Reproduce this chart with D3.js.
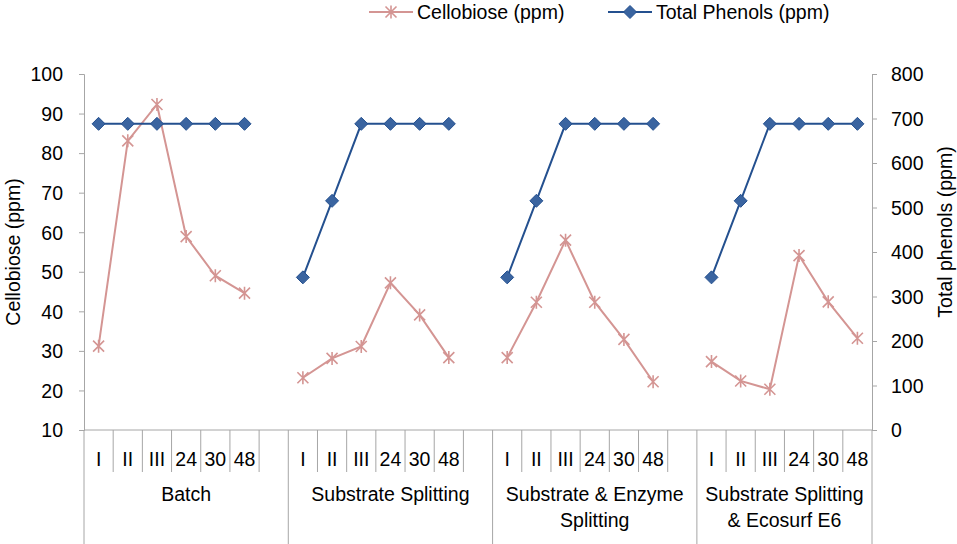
<!DOCTYPE html>
<html>
<head>
<meta charset="utf-8">
<script src="https://cdn.jsdelivr.net/npm/d3@7"></script>
<style>
  body { margin: 0; background: #fff; }
  svg { display: block; font-family: "Liberation Sans", Arial, sans-serif; }
  .axis path, .axis line { stroke: #a6a6a6; }
  .axis text { fill: #000; font-size: 19.5px; }
</style>
</head>
<body>
<svg width="957" height="544"></svg>
<script>
document.addEventListener('DOMContentLoaded', function() {

// groups of the outer category level (lines split on "|")
const groups = ["Batch", "Substrate Splitting", "Substrate & Enzyme|Splitting", "Substrate Splitting|& Ecosurf E6"];
const times = ["I", "II", "III", "24", "30", "48"];

// Cellobiose (ppm), left axis, one row per group
const cellobiose = [
    [31.2, 83.1, 92.3, 58.9, 49.0, 44.6],
    [23.2, 28.1, 31.1, 47.2, 39.1, 28.3],
    [28.3, 42.3, 58.0, 42.3, 32.9, 22.2],
    [27.3, 22.4, 20.3, 54.1, 42.4, 33.2]
];

// Total phenols (ppm), right axis
const phenols = [
    [688, 688, 688, 688, 688, 688],
    [343, 515, 688, 688, 688, 688],
    [343, 515, 688, 688, 688, 688],
    [343, 515, 688, 688, 688, 688]
];

const leftTicks = [10, 20, 30, 40, 50, 60, 70, 80, 90, 100];
const rightTicks = [0, 100, 200, 300, 400, 500, 600, 700, 800];

const cellColor = "#d49593";
const phenColor = "#24508f";
const diamondFill = "#3a64a0";

// build slots: 6 times per group + one blank slot between groups
const slots = [];
groups.forEach((g, gi) => {
    times.forEach((t, ti) => {
        slots.push({ id: `${gi}-${t}`, group: gi, label: t,
                     cell: cellobiose[gi][ti], phen: phenols[gi][ti] });
    });
    if (gi < groups.length - 1) {
        slots.push({ id: `${gi}-blank`, group: gi, label: "", cell: null, phen: null });
    }
});

const svg = d3.select("svg");
const left = 84, right = 872, top = 74, bottom = 430;

const x = d3.scaleBand()
    .domain(slots.map(d => d.id))
    .range([left, right])
    .padding(0);
const yL = d3.scaleLinear().domain([10, 100]).range([bottom, top]);
const yR = d3.scaleLinear().domain([0, 800]).range([bottom, top]);
const cx = d => x(d.id) + x.bandwidth() / 2;

// left axis
svg.append("g")
    .attr("class", "axis")
    .attr("transform", `translate(${left},0)`)
    .call(d3.axisLeft(yL).tickValues(leftTicks).tickSize(5).tickSizeOuter(5).tickPadding(16))
    .call(g => g.selectAll("text").attr("dy", "0.35em"));

// right axis
svg.append("g")
    .attr("class", "axis")
    .attr("transform", `translate(${right},0)`)
    .call(d3.axisRight(yR).tickValues(rightTicks).tickSize(5).tickSizeOuter(5).tickPadding(14))
    .call(g => g.selectAll("text").attr("dy", "0.35em"));

// category axis
const catG = svg.append("g").attr("class", "axis");
catG.append("line")
    .attr("x1", left).attr("x2", right)
    .attr("y1", bottom).attr("y2", bottom);

// slot boundaries: long at group edges, short inside groups
const bounds = [];
slots.forEach((d, i) => {
    const nxt = slots[i + 1];
    const long = !nxt || nxt.group !== d.group;
    bounds.push({ x: x(d.id) + x.bandwidth(), long: long });
});
bounds.unshift({ x: left, long: true });

catG.selectAll("line.sep")
    .data(bounds)
    .enter()
    .append("line")
    .attr("class", "sep")
    .attr("x1", d => d.x).attr("x2", d => d.x)
    .attr("y1", bottom)
    .attr("y2", d => d.long ? 544 : 472);

catG.selectAll("text.time")
    .data(slots.filter(d => d.label))
    .enter()
    .append("text")
    .attr("class", "time")
    .attr("x", cx)
    .attr("y", 459)
    .attr("dy", "0.35em")
    .attr("text-anchor", "middle")
    .text(d => d.label);

const groupSpan = groups.map((g, gi) => {
    const s = slots.filter(d => d.group === gi);
    return { name: g, x0: x(s[0].id), x1: x(s[s.length - 1].id) + x.bandwidth() };
});

const gl = catG.selectAll("text.group")
    .data(groupSpan)
    .enter()
    .append("text")
    .attr("class", "group")
    .attr("text-anchor", "middle")
    .attr("x", d => (d.x0 + d.x1) / 2)
    .attr("y", 501)
    .attr("dy", "0.35em");
gl.selectAll("tspan")
    .data(d => d.name.split("|").map(t => ({ t: t, x: (d.x0 + d.x1) / 2 })))
    .enter()
    .append("tspan")
    .attr("x", d => d.x)
    .attr("dy", (d, i) => i === 0 ? 0 : 25.5)
    .text(d => d.t);

// axis titles
svg.append("text")
    .attr("transform", `translate(13,${(top + bottom) / 2}) rotate(-90)`)
    .attr("text-anchor", "middle")
    .attr("dy", "0.35em")
    .attr("font-size", "19.5px")
    .text("Cellobiose (ppm)");

svg.append("text")
    .attr("transform", `translate(945,232) rotate(-90)`)
    .attr("text-anchor", "middle")
    .attr("dy", "0.35em")
    .attr("font-size", "19.5px")
    .text("Total phenols (ppm)");

// lines
const cellLine = d3.line().defined(d => d.cell != null).x(cx).y(d => yL(d.cell));
const phenLine = d3.line().defined(d => d.phen != null).x(cx).y(d => yR(d.phen));

svg.append("path")
    .datum(slots)
    .attr("fill", "none")
    .attr("stroke", cellColor)
    .attr("stroke-width", 2)
    .attr("d", cellLine);

svg.append("path")
    .datum(slots)
    .attr("fill", "none")
    .attr("stroke", phenColor)
    .attr("stroke-width", 2)
    .attr("d", phenLine);

// markers
const star = "M-5.5,-5.5L5.5,5.5M-5.5,5.5L5.5,-5.5M0,-6.5L0,6.5";
const diamond = "M0,-6.5L6.5,0L0,6.5L-6.5,0Z";

svg.append("g").selectAll("path")
    .data(slots.filter(d => d.cell != null))
    .enter()
    .append("path")
    .attr("transform", d => `translate(${cx(d)},${yL(d.cell)})`)
    .attr("d", star)
    .attr("fill", "none")
    .attr("stroke", cellColor)
    .attr("stroke-width", 1.6);

svg.append("g").selectAll("path")
    .data(slots.filter(d => d.phen != null))
    .enter()
    .append("path")
    .attr("transform", d => `translate(${cx(d)},${yR(d.phen)})`)
    .attr("d", diamond)
    .attr("fill", diamondFill)
    .attr("stroke", phenColor)
    .attr("stroke-width", 1);

// legend
const legend = [
    { name: "Cellobiose (ppm)", x: 369, color: cellColor, marker: star, fill: "none", sw: 1.6 },
    { name: "Total Phenols (ppm)", x: 608, color: phenColor, marker: diamond, fill: diamondFill, sw: 1 }
];
const lg = svg.append("g").selectAll("g")
    .data(legend)
    .enter()
    .append("g")
    .attr("transform", d => `translate(${d.x},12)`);
lg.append("line")
    .attr("x1", 0).attr("x2", 44)
    .attr("stroke", d => d.color)
    .attr("stroke-width", 2);
lg.append("path")
    .attr("transform", "translate(22,0)")
    .attr("d", d => d.marker)
    .attr("fill", d => d.fill)
    .attr("stroke", d => d.color)
    .attr("stroke-width", d => d.sw);
lg.append("text")
    .attr("x", 48)
    .attr("dy", "0.35em")
    .attr("font-size", "19.5px")
    .text(d => d.name);

});
</script>
</body>
</html>
